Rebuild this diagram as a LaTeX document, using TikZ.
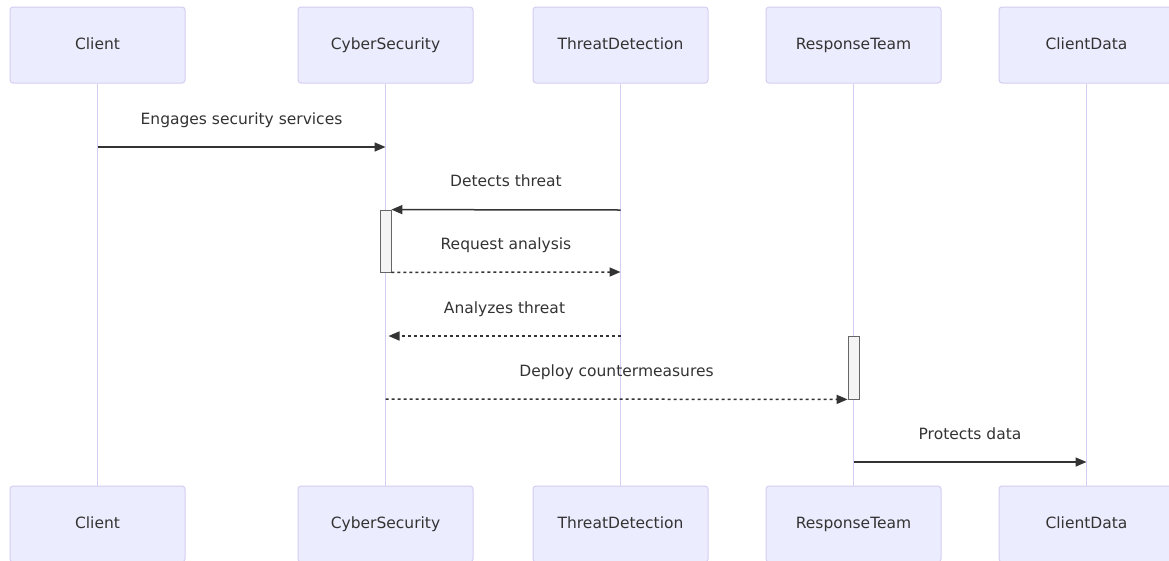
\documentclass[tikz,border=0pt]{standalone}
\usepackage{fontspec}
\setmainfont{DejaVu Sans}
\usetikzlibrary{arrows.meta, positioning}

\definecolor{ActorFill}{HTML}{ECECFF}
\definecolor{ActorLine}{HTML}{D6CDF2}
\definecolor{MsgGray}{HTML}{333333}
\definecolor{ActFill}{HTML}{F4F4F4}
\definecolor{ActLine}{HTML}{666666}

\tikzset{
	actor/.style={draw=ActorLine, fill=ActorFill, rounded corners=3pt, line width=1pt,
		minimum width=175pt, minimum height=76pt, text=MsgGray, text height=11.5pt, text depth=3.5pt,
		font=\fontsize{15.5}{18}\selectfont},
	lifeline/.style={draw=ActorLine, line width=1.5pt},
	activation/.style={draw=ActLine, fill=ActFill, line width=0.8pt, minimum width=11pt, inner sep=0pt},
	msg/.style={draw=MsgGray, line width=1.5pt, -{Triangle[length=11pt, width=9pt]}},
	reply/.style={msg, dash pattern=on 3pt off 3pt},
	msglabel/.style={text=MsgGray, text height=11.5pt, text depth=3.5pt,
		font=\fontsize{15.5}{18}\selectfont, yshift=27pt}
}

\begin{document}
\begin{tikzpicture}[x=1pt, y=-1pt]
	\useasboundingbox[fill=white] (0,0) rectangle (1169,560);
	
	% participants, top row
	\node[actor] (client) at (97.5,45) {Client};
	\node[actor] (cyber) at (385.5,45) {CyberSecurity};
	\node[actor] (threat) at (620.5,45) {ThreatDetection};
	\node[actor] (team) at (853.5,45) {ResponseTeam};
	\node[actor] (data) at (1086.5,45) {ClientData};
	
	% participants, bottom row
	\node[actor] (clientB) at (97.5,524) {Client};
	\node[actor] (cyberB) at (385.5,524) {CyberSecurity};
	\node[actor] (threatB) at (620.5,524) {ThreatDetection};
	\node[actor] (teamB) at (853.5,524) {ResponseTeam};
	\node[actor] (dataB) at (1086.5,524) {ClientData};
	
	% lifelines
	\draw[lifeline] (client) -- (clientB);
	\draw[lifeline] (cyber) -- (cyberB);
	\draw[lifeline] (threat) -- (threatB);
	\draw[lifeline] (team) -- (teamB);
	\draw[lifeline] (data) -- (dataB);
	
	% activations
	\node[activation, minimum height=62pt] (actCyber) at (385.5,241) {};
	\node[activation, minimum height=63pt] (actTeam) at (853.5,367.5) {};
	
	% messages
	\draw[msg] (client |- 0,147) -- (cyber |- 0,147)
		node[msglabel, midway] {Engages security services};
	\draw[msg] (threat |- 0,210) -- (actCyber.north east)
		node[msglabel, midway] {Detects threat};
	\draw[reply] (actCyber.south east) -- (threat |- 0,272)
		node[msglabel, midway] {Request analysis};
	\draw[reply] (threat |- 0,336) -- ([xshift=3pt]cyber |- 0,336)
		node[msglabel, midway] {Analyzes threat};
	\draw[reply] (cyber |- 0,399) -- (actTeam.south west)
		node[msglabel, midway] {Deploy countermeasures};
	\draw[msg] (team |- 0,462) -- (data |- 0,462)
		node[msglabel, midway] {Protects data};
\end{tikzpicture}
\end{document}
